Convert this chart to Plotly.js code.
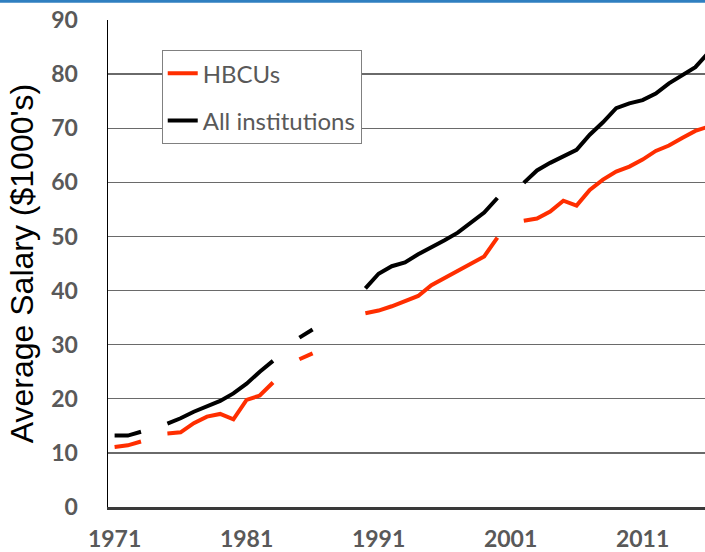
<!DOCTYPE html>
<html>
<head>
<meta charset="utf-8">
<script src="https://cdn.plot.ly/plotly-3.0.1.min.js"></script>
<style>
  html, body { margin: 0; padding: 0; background: #ffffff; }
  #chart { width: 705px; height: 552px; }
</style>
</head>
<body>
<div id="chart"></div>
<script>
// Years (category axis, one per year; blanks are missing data)
const years = [];
for (let y = 1971; y <= 2016; y++) years.push(y);

// Average salary, $1000's
const hbcu = [
  11.1, 11.4, 12.1, null, 13.6, 13.8, 15.5, 16.7, 17.2, 16.2,
  19.8, 20.6, 23.0, null, 27.3, 28.4, null, null, null, 35.8,
  36.3, 37.1, 38.0, 39.0, 41.0, 42.3, 43.6, 45.1, 46.3, 49.8,
  null, 52.9, 53.3, 54.6, 56.6, 55.7, 58.6, 60.5, 62.0, 62.9,
  64.2, 65.8, 66.8, 68.2, 69.5, 70.3
];
const allInst = [
  13.2, 13.2, 13.9, null, 15.4, 16.4, 17.6, 18.7, 19.6, 21.0,
  22.8, 25.0, 27.0, null, 31.3, 32.8, null, null, null, 40.4,
  43.1, 44.5, 45.2, 46.7, 47.9, 49.3, 50.7, 52.6, 54.4, 57.1,
  null, 59.9, 62.2, 63.6, 64.9, 66.0, 68.8, 71.1, 73.7, 74.6,
  75.2, 76.4, 78.3, 79.8, 81.3, 84.0
];

const xTickVals = [1971, 1981, 1991, 2001, 2011];
const xTickText = ['1971', '1981', '1991', '2001', '2011'];
const yTickVals = [0, 10, 20, 30, 40, 50, 60, 70, 80, 90];

const seriesNames = ['HBCUs', 'All institutions'];
const seriesColors = ['#ff2e00', '#000000'];

const traces = [
  {
    x: years, y: hbcu, name: seriesNames[0], type: 'scatter', mode: 'lines',
    line: { color: seriesColors[0], width: 4 }, connectgaps: false,
    legendgroup: 'a'
  },
  {
    x: years, y: allInst, name: seriesNames[1], type: 'scatter', mode: 'lines',
    line: { color: seriesColors[1], width: 4 }, connectgaps: false,
    legendgroup: 'b'
  }
];

const tickFont = { family: 'Lato, "Open Sans", sans-serif', size: 23, color: '#595959', weight: 'bold' };

const layout = {
  width: 705, height: 552,
  margin: { l: 108, r: 0, t: 20, b: 45, pad: 0 },
  paper_bgcolor: '#ffffff', plot_bgcolor: '#ffffff',
  showlegend: true,
  legend: {
    x: 0.09, y: 0.938, xanchor: 'left', yanchor: 'top',
    bgcolor: '#ffffff', bordercolor: '#808080', borderwidth: 1,
    font: { family: 'Lato, "Open Sans", sans-serif', size: 24, color: '#595959' },
    traceorder: 'grouped', tracegroupgap: 13
  },
  xaxis: {
    type: 'linear', range: [1970.5, 2015.73],
    tickvals: xTickVals, ticktext: xTickText,
    ticks: '', showgrid: false, zeroline: false,
    showline: true, linecolor: '#3a3a3a', linewidth: 2.5,
    tickfont: tickFont, ticklabelstandoff: 10, automargin: false
  },
  yaxis: {
    range: [0, 90], tickvals: yTickVals,
    ticks: '', showgrid: true, gridcolor: '#6a6a6a', gridwidth: 1.3,
    zeroline: false, showline: true, linecolor: '#000000', linewidth: 1.5,
    tickfont: tickFont, ticklabelstandoff: 24, automargin: false,
    title: {
      text: "Average Salary ($1000's)",
      font: { family: '"Liberation Sans", Arial, sans-serif', size: 32, color: '#000000' },
      standoff: 8
    }
  },
  shapes: [
    {
      type: 'line', xref: 'paper', yref: 'paper',
      x0: -0.2, x1: 1.0, y0: 1.0385, y1: 1.0385,
      line: { color: '#2f7fc0', width: 3 }
    }
  ]
};

Plotly.newPlot('chart', traces, layout, { displayModeBar: false, staticPlot: true });
</script>
</body>
</html>
